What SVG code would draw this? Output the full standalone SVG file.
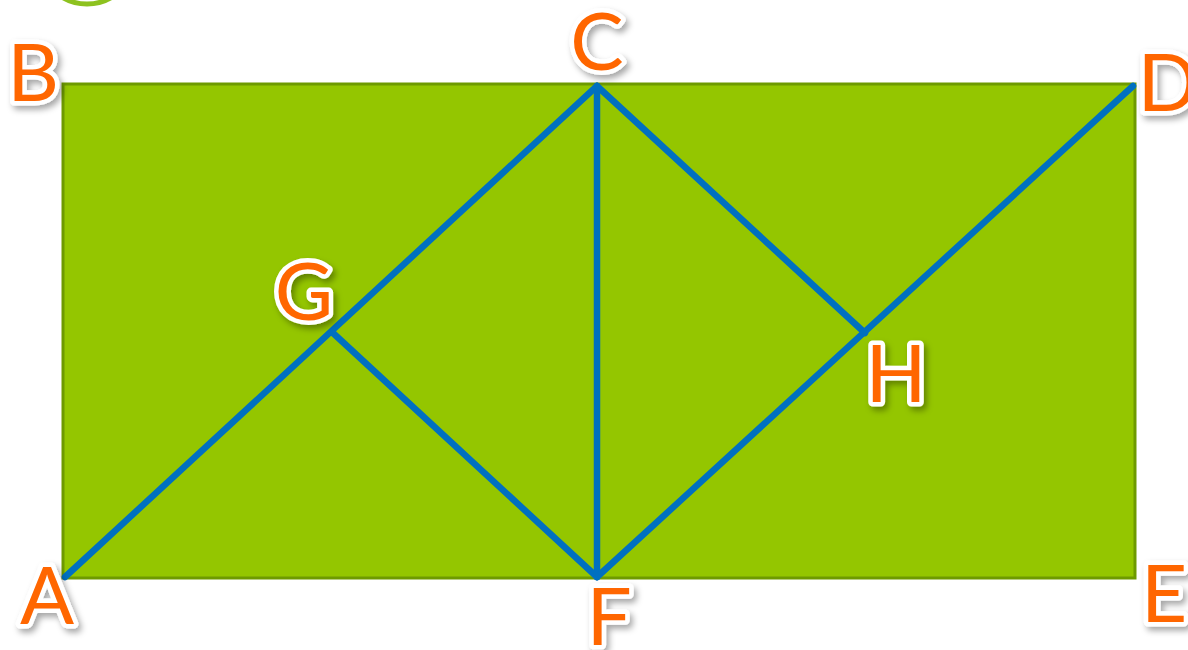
<svg xmlns="http://www.w3.org/2000/svg" width="1188" height="650" viewBox="0 0 1188 650">
<defs>
<filter id="sh" x="-30%" y="-30%" width="160%" height="160%">
<feDropShadow dx="3" dy="4" stdDeviation="3" flood-color="#000" flood-opacity="0.35"/>
</filter>
<style>
.lbl{font-family:Lato,"Open Sans","Liberation Sans",sans-serif;font-size:80px;font-weight:normal;fill:#FF6600;stroke:#fff;stroke-width:9;stroke-linejoin:round;paint-order:stroke;text-anchor:middle;filter:url(#sh)}
.ln{stroke:#0070C0;stroke-width:6.5;stroke-linecap:round;fill:none}
</style>
</defs>
<rect width="1188" height="650" fill="#fff"/>
<circle cx="87" cy="-44" r="48" fill="none" stroke="#8DC21F" stroke-width="5"/>
<g id="rect"><rect x="63" y="84" width="1072" height="494" fill="#94C600" stroke="#6E9A00" stroke-width="3"/></g>
<g id="connectors">
<line class="ln" x1="65" y1="577" x2="597" y2="86"/>
<line class="ln" x1="597" y1="86" x2="597" y2="577"/>
<line class="ln" x1="597" y1="577" x2="1133" y2="86"/>
<line class="ln" x1="333" y1="333" x2="597" y2="577"/>
<line class="ln" x1="597" y1="86" x2="865" y2="333"/>
</g>
<g id="nA"><text class="lbl" x="47" y="624">A</text></g>
<g id="nB"><text class="lbl" x="33" y="101">B</text></g>
<g id="nC"><text class="lbl" x="597" y="70">C</text></g>
<g id="nD"><text class="lbl" x="1168" y="111">D</text></g>
<g id="nE"><text class="lbl" x="1164" y="622">E</text></g>
<g id="nF"><text class="lbl" x="609" y="645">F</text></g>
<g id="nG"><text class="lbl" x="304" y="320">G</text></g>
<g id="nH"><text class="lbl" x="896" y="402">H</text></g>
</svg>
